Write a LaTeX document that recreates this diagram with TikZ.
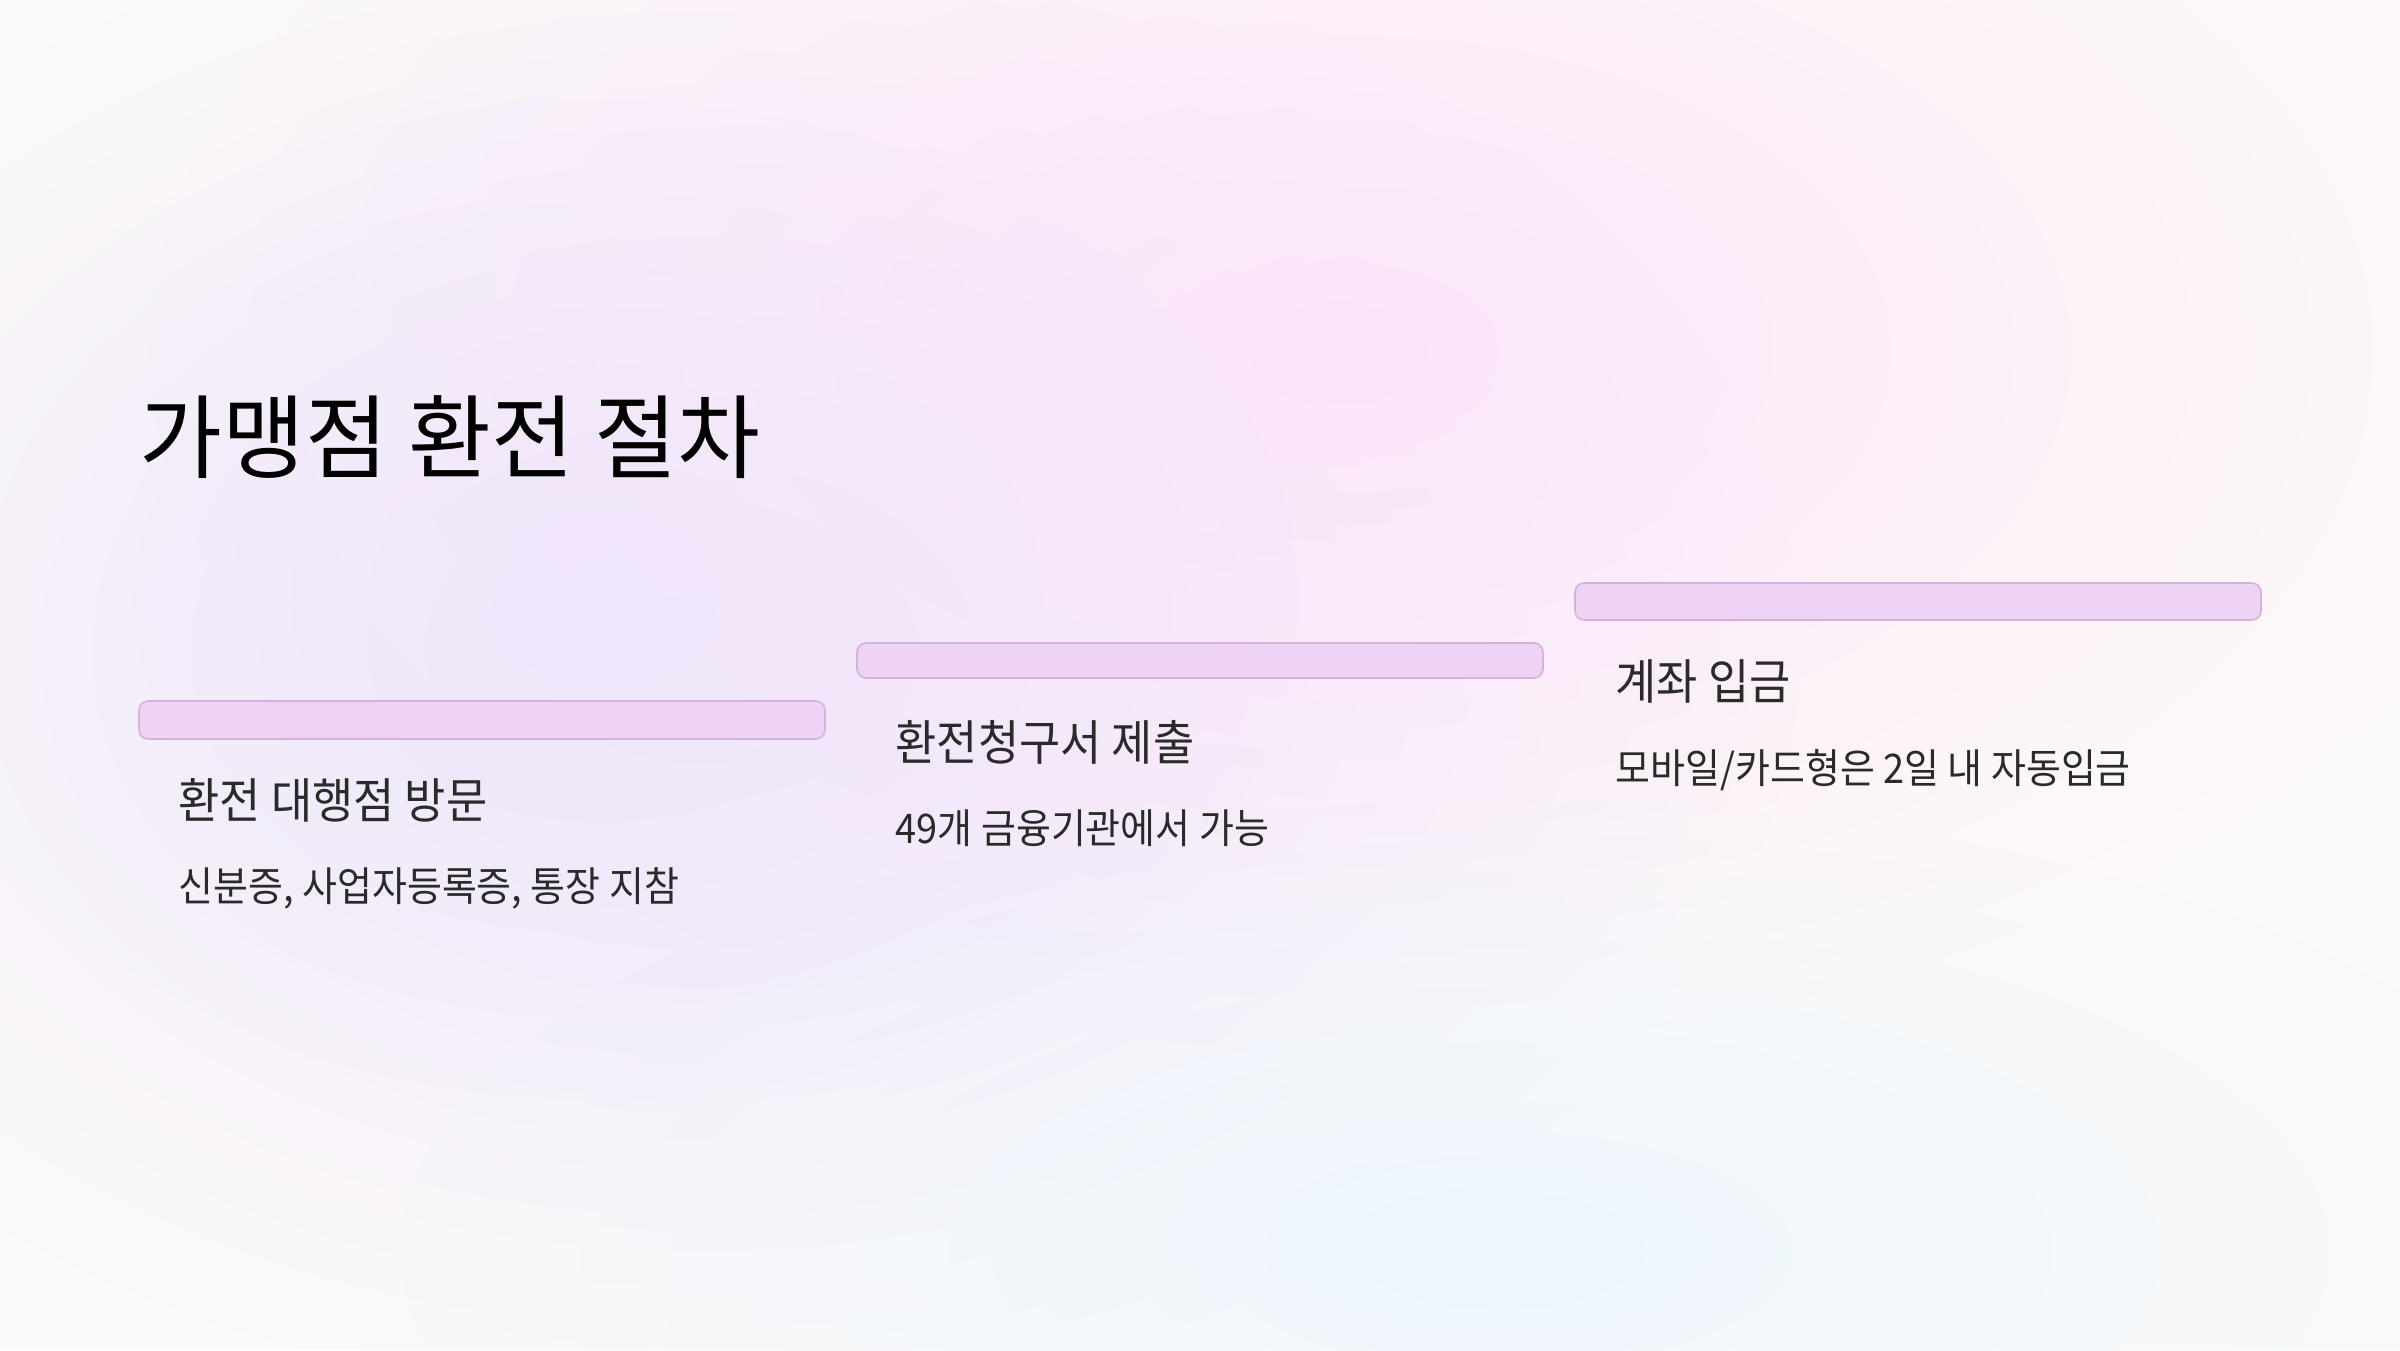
\documentclass[tikz,border=0pt]{standalone}
\usepackage{fontspec}
\setmainfont[FakeStretch=0.93]{Noto Sans CJK KR}
\newfontfamily\titlefont[FakeStretch=0.985]{Noto Sans CJK KR}
\usetikzlibrary{fadings}
\tikzfading[name=softfade, inner color=transparent!0, outer color=transparent!100]
\definecolor{bgbase}{HTML}{FCFAF8}
\definecolor{bgpink}{HTML}{FCE6FA}
\definecolor{bglav}{HTML}{EFE6FC}
\definecolor{bgblue}{HTML}{EDF6FD}
\definecolor{barfill}{HTML}{EED3F5}
\definecolor{barline}{HTML}{D5B2DE}
\definecolor{txt}{HTML}{2A2A2A}
\tikzset{
  stepbar/.style={draw=barline, line width=0.45pt, fill=barfill, rounded corners=2.6pt},
  titletext/.style={anchor=west, inner sep=0pt, font=\titlefont\fontsize{26}{30}\selectfont, text=black},
  headtext/.style={anchor=west, inner sep=0pt, font=\fontsize{13.7}{16}\selectfont, text=txt},
  subtext/.style={anchor=west, inner sep=0pt, font=\fontsize{11.6}{14}\selectfont, text=txt},
}
\begin{document}
\begin{tikzpicture}[x=0.01cm, y=-0.01cm]
\useasboundingbox (0,0) rectangle (2400,1350);
\fill[bgbase] (0,0) rectangle (2400,1350);
\fill[bglav, path fading=softfade] (700,650) ellipse (1100 and 750);
\fill[bgpink, path fading=softfade] (1350,350) ellipse (1200 and 700);
\fill[bgblue, path fading=softfade] (1500,1250) ellipse (1100 and 450);
\fill[bglav, path fading=softfade, fill opacity=0.6] (600,600) ellipse (700 and 500);

\node[titletext] (title) at (139,437) {가맹점 환전 절차};

\draw[stepbar] (139,701) rectangle (825,739);
\draw[stepbar] (857,643) rectangle (1543,678);
\draw[stepbar] (1575,583) rectangle (2261,620);

\node[headtext] (h1) at (178,800) {환전 대행점 방문};
\node[subtext] (s1) at (178,888) {신분증, 사업자등록증, 통장 지참};
\node[headtext] (h2) at (895,742) {환전청구서 제출};
\node[subtext] (s2) at (895,828) {49개 금융기관에서 가능};
\node[headtext] (h3) at (1615,681) {계좌 입금};
\node[subtext] (s3) at (1615,770) {모바일/카드형은 2일 내 자동입금};
\end{tikzpicture}
\end{document}
